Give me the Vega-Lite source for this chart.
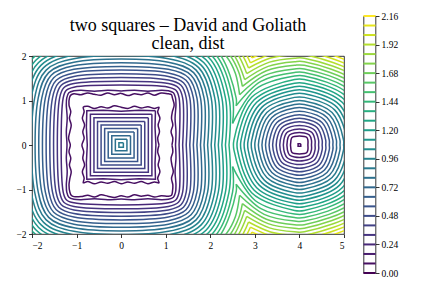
{
"$schema": "https://vega.github.io/schema/vega-lite/v6.json",
"padding": {"left": 15, "top": 10, "right": 5, "bottom": 5},
"spacing": 16.5,
"config": {
  "font": "Liberation Serif",
  "view": {"stroke": "black", "strokeWidth": 0.8},
  "axis": {"grid": false, "domain": false, "tickColor": "black", "tickSize": 3.5, "tickWidth": 0.8, "labelColor": "black", "labelFontSize": 9.5, "labelFont": "Liberation Serif", "labelPadding": 2.5}
},
"datasets": {
"g": [
{"k":1,"c":0.08,"x":1.14,"y":0},{"k":1,"c":0.08,"x":1.16,"y":0.15},{"k":1,"c":0.08,"x":1.12,"y":0.3},{"k":1,"c":0.08,"x":1.16,"y":0.45},{"k":1,"c":0.08,"x":1.13,"y":0.6},{"k":1,"c":0.08,"x":1.15,"y":0.75},{"k":1,"c":0.08,"x":1.19,"y":0.9},{"k":1,"c":0.08,"x":1.15,"y":1.06},{"k":1,"c":0.08,"x":1.13,"y":1.13},{"k":1,"c":0.08,"x":1.06,"y":1.15},{"k":1,"c":0.08,"x":0.9,"y":1.17},{"k":1,"c":0.08,"x":0.75,"y":1.12},{"k":1,"c":0.08,"x":0.6,"y":1.17},{"k":1,"c":0.08,"x":0.45,"y":1.13},{"k":1,"c":0.08,"x":0.3,"y":1.15},{"k":1,"c":0.08,"x":0.15,"y":1.11},{"k":1,"c":0.08,"x":0,"y":1.16},{"k":1,"c":0.08,"x":-0.15,"y":1.13},{"k":1,"c":0.08,"x":-0.3,"y":1.17},{"k":1,"c":0.08,"x":-0.45,"y":1.12},{"k":1,"c":0.08,"x":-0.6,"y":1.14},{"k":1,"c":0.08,"x":-0.75,"y":1.17},{"k":1,"c":0.08,"x":-0.9,"y":1.13},{"k":1,"c":0.08,"x":-1.06,"y":1.15},{"k":1,"c":0.08,"x":-1.13,"y":1.12},{"k":1,"c":0.08,"x":-1.16,"y":1.06},{"k":1,"c":0.08,"x":-1.17,"y":0.9},{"k":1,"c":0.08,"x":-1.13,"y":0.75},{"k":1,"c":0.08,"x":-1.16,"y":0.6},{"k":1,"c":0.08,"x":-1.12,"y":0.45},{"k":1,"c":0.08,"x":-1.15,"y":0.3},{"k":1,"c":0.08,"x":-1.18,"y":0.15},{"k":1,"c":0.08,"x":-1.14,"y":0},{"k":1,"c":0.08,"x":-1.17,"y":-0.15},{"k":1,"c":0.08,"x":-1.13,"y":-0.3},{"k":1,"c":0.08,"x":-1.16,"y":-0.45},{"k":1,"c":0.08,"x":-1.12,"y":-0.6},{"k":1,"c":0.08,"x":-1.15,"y":-0.75},{"k":1,"c":0.08,"x":-1.17,"y":-0.9},{"k":1,"c":0.08,"x":-1.15,"y":-1.06},{"k":1,"c":0.08,"x":-1.12,"y":-1.13},{"k":1,"c":0.08,"x":-1.06,"y":-1.16},{"k":1,"c":0.08,"x":-0.9,"y":-1.16},{"k":1,"c":0.08,"x":-0.75,"y":-1.13},{"k":1,"c":0.08,"x":-0.6,"y":-1.17},{"k":1,"c":0.08,"x":-0.45,"y":-1.12},{"k":1,"c":0.08,"x":-0.3,"y":-1.15},{"k":1,"c":0.08,"x":-0.15,"y":-1.18},{"k":1,"c":0.08,"x":0,"y":-1.14},{"k":1,"c":0.08,"x":0.15,"y":-1.17},{"k":1,"c":0.08,"x":0.3,"y":-1.12},{"k":1,"c":0.08,"x":0.45,"y":-1.15},{"k":1,"c":0.08,"x":0.6,"y":-1.13},{"k":1,"c":0.08,"x":0.75,"y":-1.17},{"k":1,"c":0.08,"x":0.9,"y":-1.14},{"k":1,"c":0.08,"x":1.06,"y":-1.15},{"k":1,"c":0.08,"x":1.13,"y":-1.13},{"k":1,"c":0.08,"x":1.15,"y":-1.06},{"k":1,"c":0.08,"x":1.16,"y":-0.9},{"k":1,"c":0.08,"x":1.13,"y":-0.75},{"k":1,"c":0.08,"x":1.17,"y":-0.6},{"k":1,"c":0.08,"x":1.14,"y":-0.45},{"k":1,"c":0.08,"x":1.12,"y":-0.3},{"k":1,"c":0.08,"x":1.16,"y":-0.15},{"k":1,"c":0.08,"x":1.14,"y":0},
{"k":2,"c":0.16,"x":1.22,"y":0},{"k":2,"c":0.16,"x":1.23,"y":0.3},{"k":2,"c":0.16,"x":1.21,"y":0.6},{"k":2,"c":0.16,"x":1.23,"y":0.9},{"k":2,"c":0.16,"x":1.22,"y":1.06},{"k":2,"c":0.16,"x":1.173,"y":1.173},{"k":2,"c":0.16,"x":1.06,"y":1.22},{"k":2,"c":0.16,"x":0.9,"y":1.23},{"k":2,"c":0.16,"x":0.6,"y":1.21},{"k":2,"c":0.16,"x":0.3,"y":1.23},{"k":2,"c":0.16,"x":0,"y":1.215},{"k":2,"c":0.16,"x":-0.3,"y":1.23},{"k":2,"c":0.16,"x":-0.6,"y":1.21},{"k":2,"c":0.16,"x":-0.9,"y":1.23},{"k":2,"c":0.16,"x":-1.06,"y":1.22},{"k":2,"c":0.16,"x":-1.173,"y":1.173},{"k":2,"c":0.16,"x":-1.22,"y":1.06},{"k":2,"c":0.16,"x":-1.23,"y":0.9},{"k":2,"c":0.16,"x":-1.21,"y":0.6},{"k":2,"c":0.16,"x":-1.23,"y":0.3},{"k":2,"c":0.16,"x":-1.215,"y":0},{"k":2,"c":0.16,"x":-1.23,"y":-0.3},{"k":2,"c":0.16,"x":-1.21,"y":-0.6},{"k":2,"c":0.16,"x":-1.23,"y":-0.9},{"k":2,"c":0.16,"x":-1.22,"y":-1.06},{"k":2,"c":0.16,"x":-1.173,"y":-1.173},{"k":2,"c":0.16,"x":-1.06,"y":-1.22},{"k":2,"c":0.16,"x":-0.9,"y":-1.23},{"k":2,"c":0.16,"x":-0.6,"y":-1.21},{"k":2,"c":0.16,"x":-0.3,"y":-1.23},{"k":2,"c":0.16,"x":0,"y":-1.215},{"k":2,"c":0.16,"x":0.3,"y":-1.23},{"k":2,"c":0.16,"x":0.6,"y":-1.21},{"k":2,"c":0.16,"x":0.9,"y":-1.23},{"k":2,"c":0.16,"x":1.06,"y":-1.22},{"k":2,"c":0.16,"x":1.173,"y":-1.173},{"k":2,"c":0.16,"x":1.22,"y":-1.06},{"k":2,"c":0.16,"x":1.23,"y":-0.9},{"k":2,"c":0.16,"x":1.21,"y":-0.6},{"k":2,"c":0.16,"x":1.23,"y":-0.3},{"k":2,"c":0.16,"x":1.22,"y":0},
{"k":401,"c":0.08,"x":0.85,"y":0},{"k":401,"c":0.08,"x":0.82,"y":0.15},{"k":401,"c":0.08,"x":0.86,"y":0.3},{"k":401,"c":0.08,"x":0.83,"y":0.45},{"k":401,"c":0.08,"x":0.87,"y":0.6},{"k":401,"c":0.08,"x":0.82,"y":0.75},{"k":401,"c":0.08,"x":0.85,"y":0.85},{"k":401,"c":0.08,"x":0.75,"y":0.82},{"k":401,"c":0.08,"x":0.6,"y":0.86},{"k":401,"c":0.08,"x":0.45,"y":0.83},{"k":401,"c":0.08,"x":0.3,"y":0.87},{"k":401,"c":0.08,"x":0.15,"y":0.82},{"k":401,"c":0.08,"x":0,"y":0.85},{"k":401,"c":0.08,"x":-0.15,"y":0.88},{"k":401,"c":0.08,"x":-0.3,"y":0.83},{"k":401,"c":0.08,"x":-0.45,"y":0.86},{"k":401,"c":0.08,"x":-0.6,"y":0.82},{"k":401,"c":0.08,"x":-0.75,"y":0.87},{"k":401,"c":0.08,"x":-0.85,"y":0.85},{"k":401,"c":0.08,"x":-0.83,"y":0.75},{"k":401,"c":0.08,"x":-0.87,"y":0.6},{"k":401,"c":0.08,"x":-0.82,"y":0.45},{"k":401,"c":0.08,"x":-0.86,"y":0.3},{"k":401,"c":0.08,"x":-0.83,"y":0.15},{"k":401,"c":0.08,"x":-0.88,"y":0},{"k":401,"c":0.08,"x":-0.84,"y":-0.15},{"k":401,"c":0.08,"x":-0.86,"y":-0.3},{"k":401,"c":0.08,"x":-0.82,"y":-0.45},{"k":401,"c":0.08,"x":-0.87,"y":-0.6},{"k":401,"c":0.08,"x":-0.83,"y":-0.75},{"k":401,"c":0.08,"x":-0.85,"y":-0.85},{"k":401,"c":0.08,"x":-0.75,"y":-0.82},{"k":401,"c":0.08,"x":-0.6,"y":-0.87},{"k":401,"c":0.08,"x":-0.45,"y":-0.83},{"k":401,"c":0.08,"x":-0.3,"y":-0.86},{"k":401,"c":0.08,"x":-0.15,"y":-0.82},{"k":401,"c":0.08,"x":0,"y":-0.87},{"k":401,"c":0.08,"x":0.15,"y":-0.83},{"k":401,"c":0.08,"x":0.3,"y":-0.86},{"k":401,"c":0.08,"x":0.45,"y":-0.82},{"k":401,"c":0.08,"x":0.6,"y":-0.87},{"k":401,"c":0.08,"x":0.75,"y":-0.83},{"k":401,"c":0.08,"x":0.85,"y":-0.85},{"k":401,"c":0.08,"x":0.82,"y":-0.75},{"k":401,"c":0.08,"x":0.87,"y":-0.6},{"k":401,"c":0.08,"x":0.83,"y":-0.45},{"k":401,"c":0.08,"x":0.86,"y":-0.3},{"k":401,"c":0.08,"x":0.82,"y":-0.15},{"k":401,"c":0.08,"x":0.85,"y":0},
{"k":3,"c":0.24,"x":1.3,"y":0},{"k":3,"c":0.24,"x":1.3,"y":1.06},{"k":3,"c":0.24,"x":1.23,"y":1.23},{"k":3,"c":0.24,"x":1.06,"y":1.3},{"k":3,"c":0.24,"x":-1.06,"y":1.3},{"k":3,"c":0.24,"x":-1.23,"y":1.23},{"k":3,"c":0.24,"x":-1.3,"y":1.06},{"k":3,"c":0.24,"x":-1.3,"y":-1.06},{"k":3,"c":0.24,"x":-1.23,"y":-1.23},{"k":3,"c":0.24,"x":-1.06,"y":-1.3},{"k":3,"c":0.24,"x":1.06,"y":-1.3},{"k":3,"c":0.24,"x":1.23,"y":-1.23},{"k":3,"c":0.24,"x":1.3,"y":-1.06},{"k":3,"c":0.24,"x":1.3,"y":0},
{"k":4,"c":0.32,"x":1.38,"y":0},{"k":4,"c":0.32,"x":1.38,"y":1.06},{"k":4,"c":0.32,"x":1.286,"y":1.286},{"k":4,"c":0.32,"x":1.06,"y":1.38},{"k":4,"c":0.32,"x":-1.06,"y":1.38},{"k":4,"c":0.32,"x":-1.286,"y":1.286},{"k":4,"c":0.32,"x":-1.38,"y":1.06},{"k":4,"c":0.32,"x":-1.38,"y":-1.06},{"k":4,"c":0.32,"x":-1.286,"y":-1.286},{"k":4,"c":0.32,"x":-1.06,"y":-1.38},{"k":4,"c":0.32,"x":1.06,"y":-1.38},{"k":4,"c":0.32,"x":1.286,"y":-1.286},{"k":4,"c":0.32,"x":1.38,"y":-1.06},{"k":4,"c":0.32,"x":1.38,"y":0},
{"k":5,"c":0.4,"x":1.46,"y":0},{"k":5,"c":0.4,"x":1.46,"y":1.06},{"k":5,"c":0.4,"x":1.343,"y":1.343},{"k":5,"c":0.4,"x":1.06,"y":1.46},{"k":5,"c":0.4,"x":-1.06,"y":1.46},{"k":5,"c":0.4,"x":-1.343,"y":1.343},{"k":5,"c":0.4,"x":-1.46,"y":1.06},{"k":5,"c":0.4,"x":-1.46,"y":-1.06},{"k":5,"c":0.4,"x":-1.343,"y":-1.343},{"k":5,"c":0.4,"x":-1.06,"y":-1.46},{"k":5,"c":0.4,"x":1.06,"y":-1.46},{"k":5,"c":0.4,"x":1.343,"y":-1.343},{"k":5,"c":0.4,"x":1.46,"y":-1.06},{"k":5,"c":0.4,"x":1.46,"y":0},
{"k":6,"c":0.48,"x":1.54,"y":0},{"k":6,"c":0.48,"x":1.54,"y":1.06},{"k":6,"c":0.48,"x":1.399,"y":1.399},{"k":6,"c":0.48,"x":1.06,"y":1.54},{"k":6,"c":0.48,"x":-1.06,"y":1.54},{"k":6,"c":0.48,"x":-1.399,"y":1.399},{"k":6,"c":0.48,"x":-1.54,"y":1.06},{"k":6,"c":0.48,"x":-1.54,"y":-1.06},{"k":6,"c":0.48,"x":-1.399,"y":-1.399},{"k":6,"c":0.48,"x":-1.06,"y":-1.54},{"k":6,"c":0.48,"x":1.06,"y":-1.54},{"k":6,"c":0.48,"x":1.399,"y":-1.399},{"k":6,"c":0.48,"x":1.54,"y":-1.06},{"k":6,"c":0.48,"x":1.54,"y":0},
{"k":7,"c":0.56,"x":1.62,"y":0},{"k":7,"c":0.56,"x":1.62,"y":1.06},{"k":7,"c":0.56,"x":1.456,"y":1.456},{"k":7,"c":0.56,"x":1.06,"y":1.62},{"k":7,"c":0.56,"x":-1.06,"y":1.62},{"k":7,"c":0.56,"x":-1.456,"y":1.456},{"k":7,"c":0.56,"x":-1.62,"y":1.06},{"k":7,"c":0.56,"x":-1.62,"y":-1.06},{"k":7,"c":0.56,"x":-1.456,"y":-1.456},{"k":7,"c":0.56,"x":-1.06,"y":-1.62},{"k":7,"c":0.56,"x":1.06,"y":-1.62},{"k":7,"c":0.56,"x":1.456,"y":-1.456},{"k":7,"c":0.56,"x":1.62,"y":-1.06},{"k":7,"c":0.56,"x":1.62,"y":0},
{"k":8,"c":0.64,"x":1.7,"y":0},{"k":8,"c":0.64,"x":1.7,"y":1.06},{"k":8,"c":0.64,"x":1.513,"y":1.513},{"k":8,"c":0.64,"x":1.06,"y":1.7},{"k":8,"c":0.64,"x":-1.06,"y":1.7},{"k":8,"c":0.64,"x":-1.513,"y":1.513},{"k":8,"c":0.64,"x":-1.7,"y":1.06},{"k":8,"c":0.64,"x":-1.7,"y":-1.06},{"k":8,"c":0.64,"x":-1.513,"y":-1.513},{"k":8,"c":0.64,"x":-1.06,"y":-1.7},{"k":8,"c":0.64,"x":1.06,"y":-1.7},{"k":8,"c":0.64,"x":1.513,"y":-1.513},{"k":8,"c":0.64,"x":1.7,"y":-1.06},{"k":8,"c":0.64,"x":1.7,"y":0},
{"k":9,"c":0.72,"x":1.78,"y":0},{"k":9,"c":0.72,"x":1.78,"y":1.06},{"k":9,"c":0.72,"x":1.569,"y":1.569},{"k":9,"c":0.72,"x":1.06,"y":1.78},{"k":9,"c":0.72,"x":-1.06,"y":1.78},{"k":9,"c":0.72,"x":-1.569,"y":1.569},{"k":9,"c":0.72,"x":-1.78,"y":1.06},{"k":9,"c":0.72,"x":-1.78,"y":-1.06},{"k":9,"c":0.72,"x":-1.569,"y":-1.569},{"k":9,"c":0.72,"x":-1.06,"y":-1.78},{"k":9,"c":0.72,"x":1.06,"y":-1.78},{"k":9,"c":0.72,"x":1.569,"y":-1.569},{"k":9,"c":0.72,"x":1.78,"y":-1.06},{"k":9,"c":0.72,"x":1.78,"y":0},
{"k":10,"c":0.8,"x":1.86,"y":0},{"k":10,"c":0.8,"x":1.86,"y":1.06},{"k":10,"c":0.8,"x":1.626,"y":1.626},{"k":10,"c":0.8,"x":1.06,"y":1.86},{"k":10,"c":0.8,"x":-1.06,"y":1.86},{"k":10,"c":0.8,"x":-1.626,"y":1.626},{"k":10,"c":0.8,"x":-1.86,"y":1.06},{"k":10,"c":0.8,"x":-1.86,"y":-1.06},{"k":10,"c":0.8,"x":-1.626,"y":-1.626},{"k":10,"c":0.8,"x":-1.06,"y":-1.86},{"k":10,"c":0.8,"x":1.06,"y":-1.86},{"k":10,"c":0.8,"x":1.626,"y":-1.626},{"k":10,"c":0.8,"x":1.86,"y":-1.06},{"k":10,"c":0.8,"x":1.86,"y":0},
{"k":11,"c":0.88,"x":1.94,"y":0},{"k":11,"c":0.88,"x":1.94,"y":1.06},{"k":11,"c":0.88,"x":1.682,"y":1.682},{"k":11,"c":0.88,"x":1.06,"y":1.94},{"k":11,"c":0.88,"x":-1.06,"y":1.94},{"k":11,"c":0.88,"x":-1.682,"y":1.682},{"k":11,"c":0.88,"x":-1.94,"y":1.06},{"k":11,"c":0.88,"x":-1.94,"y":-1.06},{"k":11,"c":0.88,"x":-1.682,"y":-1.682},{"k":11,"c":0.88,"x":-1.06,"y":-1.94},{"k":11,"c":0.88,"x":1.06,"y":-1.94},{"k":11,"c":0.88,"x":1.682,"y":-1.682},{"k":11,"c":0.88,"x":1.94,"y":-1.06},{"k":11,"c":0.88,"x":1.94,"y":0},
{"k":12,"c":0.96,"x":2.02,"y":0},{"k":12,"c":0.96,"x":2.02,"y":1.06},{"k":12,"c":0.96,"x":1.739,"y":1.739},{"k":12,"c":0.96,"x":1.06,"y":2.02},{"k":12,"c":0.96,"x":-1.06,"y":2.02},{"k":12,"c":0.96,"x":-1.739,"y":1.739},{"k":12,"c":0.96,"x":-2.02,"y":1.06},{"k":12,"c":0.96,"x":-2.02,"y":-1.06},{"k":12,"c":0.96,"x":-1.739,"y":-1.739},{"k":12,"c":0.96,"x":-1.06,"y":-2.02},{"k":12,"c":0.96,"x":1.06,"y":-2.02},{"k":12,"c":0.96,"x":1.739,"y":-1.739},{"k":12,"c":0.96,"x":2.02,"y":-1.06},{"k":12,"c":0.96,"x":2.02,"y":0},
{"k":13,"c":1.04,"x":2.1,"y":0},{"k":13,"c":1.04,"x":2.1,"y":1.06},{"k":13,"c":1.04,"x":1.795,"y":1.795},{"k":13,"c":1.04,"x":1.06,"y":2.1},{"k":13,"c":1.04,"x":-1.06,"y":2.1},{"k":13,"c":1.04,"x":-1.795,"y":1.795},{"k":13,"c":1.04,"x":-2.1,"y":1.06},{"k":13,"c":1.04,"x":-2.1,"y":-1.06},{"k":13,"c":1.04,"x":-1.795,"y":-1.795},{"k":13,"c":1.04,"x":-1.06,"y":-2.1},{"k":13,"c":1.04,"x":1.06,"y":-2.1},{"k":13,"c":1.04,"x":1.795,"y":-1.795},{"k":13,"c":1.04,"x":2.1,"y":-1.06},{"k":13,"c":1.04,"x":2.1,"y":0},
{"k":14,"c":1.12,"x":2.18,"y":0},{"k":14,"c":1.12,"x":2.18,"y":1.06},{"k":14,"c":1.12,"x":1.852,"y":1.852},{"k":14,"c":1.12,"x":1.06,"y":2.18},{"k":14,"c":1.12,"x":-1.06,"y":2.18},{"k":14,"c":1.12,"x":-1.852,"y":1.852},{"k":14,"c":1.12,"x":-2.18,"y":1.06},{"k":14,"c":1.12,"x":-2.18,"y":-1.06},{"k":14,"c":1.12,"x":-1.852,"y":-1.852},{"k":14,"c":1.12,"x":-1.06,"y":-2.18},{"k":14,"c":1.12,"x":1.06,"y":-2.18},{"k":14,"c":1.12,"x":1.852,"y":-1.852},{"k":14,"c":1.12,"x":2.18,"y":-1.06},{"k":14,"c":1.12,"x":2.18,"y":0},
{"k":15,"c":1.2,"x":2.26,"y":0},{"k":15,"c":1.2,"x":2.26,"y":1.06},{"k":15,"c":1.2,"x":1.909,"y":1.909},{"k":15,"c":1.2,"x":1.06,"y":2.26},{"k":15,"c":1.2,"x":-1.06,"y":2.26},{"k":15,"c":1.2,"x":-1.909,"y":1.909},{"k":15,"c":1.2,"x":-2.26,"y":1.06},{"k":15,"c":1.2,"x":-2.26,"y":-1.06},{"k":15,"c":1.2,"x":-1.909,"y":-1.909},{"k":15,"c":1.2,"x":-1.06,"y":-2.26},{"k":15,"c":1.2,"x":1.06,"y":-2.26},{"k":15,"c":1.2,"x":1.909,"y":-1.909},{"k":15,"c":1.2,"x":2.26,"y":-1.06},{"k":15,"c":1.2,"x":2.26,"y":0},
{"k":16,"c":1.28,"x":2.34,"y":0},{"k":16,"c":1.28,"x":2.34,"y":1.06},{"k":16,"c":1.28,"x":1.965,"y":1.965},{"k":16,"c":1.28,"x":1.06,"y":2.34},{"k":16,"c":1.28,"x":-1.06,"y":2.34},{"k":16,"c":1.28,"x":-1.965,"y":1.965},{"k":16,"c":1.28,"x":-2.34,"y":1.06},{"k":16,"c":1.28,"x":-2.34,"y":-1.06},{"k":16,"c":1.28,"x":-1.965,"y":-1.965},{"k":16,"c":1.28,"x":-1.06,"y":-2.34},{"k":16,"c":1.28,"x":1.06,"y":-2.34},{"k":16,"c":1.28,"x":1.965,"y":-1.965},{"k":16,"c":1.28,"x":2.34,"y":-1.06},{"k":16,"c":1.28,"x":2.34,"y":0},
{"k":17,"c":1.36,"x":2.42,"y":0},{"k":17,"c":1.36,"x":2.42,"y":1.06},{"k":17,"c":1.36,"x":2.022,"y":2.022},{"k":17,"c":1.36,"x":1.06,"y":2.42},{"k":17,"c":1.36,"x":-1.06,"y":2.42},{"k":17,"c":1.36,"x":-2.022,"y":2.022},{"k":17,"c":1.36,"x":-2.42,"y":1.06},{"k":17,"c":1.36,"x":-2.42,"y":-1.06},{"k":17,"c":1.36,"x":-2.022,"y":-2.022},{"k":17,"c":1.36,"x":-1.06,"y":-2.42},{"k":17,"c":1.36,"x":1.06,"y":-2.42},{"k":17,"c":1.36,"x":2.022,"y":-2.022},{"k":17,"c":1.36,"x":2.42,"y":-1.06},{"k":17,"c":1.36,"x":2.42,"y":0},
{"k":118,"c":1.44,"x":2.5,"y":0.486},{"k":118,"c":1.44,"x":2.5,"y":1.06},{"k":118,"c":1.44,"x":2.078,"y":2.078},{"k":118,"c":1.44,"x":1.06,"y":2.5},
{"k":218,"c":1.44,"x":2.5,"y":-0.486},{"k":218,"c":1.44,"x":2.5,"y":-1.06},{"k":218,"c":1.44,"x":2.078,"y":-2.078},{"k":218,"c":1.44,"x":1.06,"y":-2.5},
{"k":119,"c":1.52,"x":2.58,"y":0.881},{"k":119,"c":1.52,"x":2.58,"y":1.06},{"k":119,"c":1.52,"x":2.135,"y":2.135},{"k":119,"c":1.52,"x":1.06,"y":2.58},
{"k":219,"c":1.52,"x":2.58,"y":-0.881},{"k":219,"c":1.52,"x":2.58,"y":-1.06},{"k":219,"c":1.52,"x":2.135,"y":-2.135},{"k":219,"c":1.52,"x":1.06,"y":-2.58},
{"k":120,"c":1.6,"x":2.658,"y":1.131},{"k":120,"c":1.6,"x":2.564,"y":1.607},{"k":120,"c":1.6,"x":2.371,"y":1.978},{"k":120,"c":1.6,"x":1.86,"y":2.446},{"k":120,"c":1.6,"x":1.06,"y":2.66},
{"k":220,"c":1.6,"x":2.658,"y":-1.131},{"k":220,"c":1.6,"x":2.564,"y":-1.607},{"k":220,"c":1.6,"x":2.371,"y":-1.978},{"k":220,"c":1.6,"x":1.86,"y":-2.446},{"k":220,"c":1.6,"x":1.06,"y":-2.66},
{"k":121,"c":1.68,"x":2.72,"y":1.316},{"k":121,"c":1.68,"x":2.639,"y":1.635},{"k":121,"c":1.68,"x":2.436,"y":2.024},{"k":121,"c":1.68,"x":1.9,"y":2.515},{"k":121,"c":1.68,"x":1.06,"y":2.74},
{"k":221,"c":1.68,"x":2.72,"y":-1.316},{"k":221,"c":1.68,"x":2.639,"y":-1.635},{"k":221,"c":1.68,"x":2.436,"y":-2.024},{"k":221,"c":1.68,"x":1.9,"y":-2.515},{"k":221,"c":1.68,"x":1.06,"y":-2.74},
{"k":122,"c":1.76,"x":2.772,"y":1.469},{"k":122,"c":1.76,"x":2.502,"y":2.07},{"k":122,"c":1.76,"x":1.94,"y":2.584},{"k":122,"c":1.76,"x":1.06,"y":2.82},
{"k":222,"c":1.76,"x":2.772,"y":-1.469},{"k":222,"c":1.76,"x":2.502,"y":-2.07},{"k":222,"c":1.76,"x":1.94,"y":-2.584},{"k":222,"c":1.76,"x":1.06,"y":-2.82},
{"k":123,"c":1.84,"x":2.817,"y":1.605},{"k":123,"c":1.84,"x":2.567,"y":2.115},{"k":123,"c":1.84,"x":1.98,"y":2.653},{"k":123,"c":1.84,"x":1.06,"y":2.9},
{"k":223,"c":1.84,"x":2.817,"y":-1.605},{"k":223,"c":1.84,"x":2.567,"y":-2.115},{"k":223,"c":1.84,"x":1.98,"y":-2.653},{"k":223,"c":1.84,"x":1.06,"y":-2.9},
{"k":124,"c":1.92,"x":2.859,"y":1.73},{"k":124,"c":1.92,"x":2.633,"y":2.161},{"k":124,"c":1.92,"x":2.02,"y":2.723},{"k":124,"c":1.92,"x":1.06,"y":2.98},
{"k":224,"c":1.92,"x":2.859,"y":-1.73},{"k":224,"c":1.92,"x":2.633,"y":-2.161},{"k":224,"c":1.92,"x":2.02,"y":-2.723},{"k":224,"c":1.92,"x":1.06,"y":-2.98},
{"k":125,"c":2,"x":2.899,"y":1.847},{"k":125,"c":2,"x":2.698,"y":2.207},{"k":125,"c":2,"x":2.06,"y":2.792},{"k":125,"c":2,"x":1.06,"y":3.06},
{"k":225,"c":2,"x":2.899,"y":-1.847},{"k":225,"c":2,"x":2.698,"y":-2.207},{"k":225,"c":2,"x":2.06,"y":-2.792},{"k":225,"c":2,"x":1.06,"y":-3.06},
{"k":126,"c":2.08,"x":2.936,"y":1.958},{"k":126,"c":2.08,"x":2.764,"y":2.253},{"k":126,"c":2.08,"x":2.1,"y":2.861},{"k":126,"c":2.08,"x":1.06,"y":3.14},
{"k":226,"c":2.08,"x":2.936,"y":-1.958},{"k":226,"c":2.08,"x":2.764,"y":-2.253},{"k":226,"c":2.08,"x":2.1,"y":-2.861},{"k":226,"c":2.08,"x":1.06,"y":-3.14},
{"k":301,"c":0.08,"x":4.19,"y":0},{"k":301,"c":0.08,"x":4.19,"y":0.11},{"k":301,"c":0.08,"x":4.167,"y":0.167},{"k":301,"c":0.08,"x":4.11,"y":0.19},{"k":301,"c":0.08,"x":3.89,"y":0.19},{"k":301,"c":0.08,"x":3.833,"y":0.167},{"k":301,"c":0.08,"x":3.81,"y":0.11},{"k":301,"c":0.08,"x":3.81,"y":-0.11},{"k":301,"c":0.08,"x":3.833,"y":-0.167},{"k":301,"c":0.08,"x":3.89,"y":-0.19},{"k":301,"c":0.08,"x":4.11,"y":-0.19},{"k":301,"c":0.08,"x":4.167,"y":-0.167},{"k":301,"c":0.08,"x":4.19,"y":-0.11},{"k":301,"c":0.08,"x":4.19,"y":0},
{"k":302,"c":0.16,"x":4.27,"y":0},{"k":302,"c":0.16,"x":4.27,"y":0.11},{"k":302,"c":0.16,"x":4.223,"y":0.223},{"k":302,"c":0.16,"x":4.11,"y":0.27},{"k":302,"c":0.16,"x":3.89,"y":0.27},{"k":302,"c":0.16,"x":3.777,"y":0.223},{"k":302,"c":0.16,"x":3.73,"y":0.11},{"k":302,"c":0.16,"x":3.73,"y":-0.11},{"k":302,"c":0.16,"x":3.777,"y":-0.223},{"k":302,"c":0.16,"x":3.89,"y":-0.27},{"k":302,"c":0.16,"x":4.11,"y":-0.27},{"k":302,"c":0.16,"x":4.223,"y":-0.223},{"k":302,"c":0.16,"x":4.27,"y":-0.11},{"k":302,"c":0.16,"x":4.27,"y":0},
{"k":303,"c":0.24,"x":4.35,"y":0},{"k":303,"c":0.24,"x":4.35,"y":0.11},{"k":303,"c":0.24,"x":4.28,"y":0.28},{"k":303,"c":0.24,"x":4.11,"y":0.35},{"k":303,"c":0.24,"x":3.89,"y":0.35},{"k":303,"c":0.24,"x":3.72,"y":0.28},{"k":303,"c":0.24,"x":3.65,"y":0.11},{"k":303,"c":0.24,"x":3.65,"y":-0.11},{"k":303,"c":0.24,"x":3.72,"y":-0.28},{"k":303,"c":0.24,"x":3.89,"y":-0.35},{"k":303,"c":0.24,"x":4.11,"y":-0.35},{"k":303,"c":0.24,"x":4.28,"y":-0.28},{"k":303,"c":0.24,"x":4.35,"y":-0.11},{"k":303,"c":0.24,"x":4.35,"y":0},
{"k":304,"c":0.32,"x":4.43,"y":0},{"k":304,"c":0.32,"x":4.43,"y":0.11},{"k":304,"c":0.32,"x":4.336,"y":0.336},{"k":304,"c":0.32,"x":4.11,"y":0.43},{"k":304,"c":0.32,"x":3.89,"y":0.43},{"k":304,"c":0.32,"x":3.664,"y":0.336},{"k":304,"c":0.32,"x":3.57,"y":0.11},{"k":304,"c":0.32,"x":3.57,"y":-0.11},{"k":304,"c":0.32,"x":3.664,"y":-0.336},{"k":304,"c":0.32,"x":3.89,"y":-0.43},{"k":304,"c":0.32,"x":4.11,"y":-0.43},{"k":304,"c":0.32,"x":4.336,"y":-0.336},{"k":304,"c":0.32,"x":4.43,"y":-0.11},{"k":304,"c":0.32,"x":4.43,"y":0},
{"k":305,"c":0.4,"x":4.51,"y":0},{"k":305,"c":0.4,"x":4.51,"y":0.11},{"k":305,"c":0.4,"x":4.393,"y":0.393},{"k":305,"c":0.4,"x":4.11,"y":0.51},{"k":305,"c":0.4,"x":3.89,"y":0.51},{"k":305,"c":0.4,"x":3.607,"y":0.393},{"k":305,"c":0.4,"x":3.49,"y":0.11},{"k":305,"c":0.4,"x":3.49,"y":-0.11},{"k":305,"c":0.4,"x":3.607,"y":-0.393},{"k":305,"c":0.4,"x":3.89,"y":-0.51},{"k":305,"c":0.4,"x":4.11,"y":-0.51},{"k":305,"c":0.4,"x":4.393,"y":-0.393},{"k":305,"c":0.4,"x":4.51,"y":-0.11},{"k":305,"c":0.4,"x":4.51,"y":0},
{"k":306,"c":0.48,"x":4.59,"y":0},{"k":306,"c":0.48,"x":4.59,"y":0.11},{"k":306,"c":0.48,"x":4.449,"y":0.449},{"k":306,"c":0.48,"x":4.11,"y":0.59},{"k":306,"c":0.48,"x":3.89,"y":0.59},{"k":306,"c":0.48,"x":3.551,"y":0.449},{"k":306,"c":0.48,"x":3.41,"y":0.11},{"k":306,"c":0.48,"x":3.41,"y":-0.11},{"k":306,"c":0.48,"x":3.551,"y":-0.449},{"k":306,"c":0.48,"x":3.89,"y":-0.59},{"k":306,"c":0.48,"x":4.11,"y":-0.59},{"k":306,"c":0.48,"x":4.449,"y":-0.449},{"k":306,"c":0.48,"x":4.59,"y":-0.11},{"k":306,"c":0.48,"x":4.59,"y":0},
{"k":307,"c":0.56,"x":4.67,"y":0},{"k":307,"c":0.56,"x":4.67,"y":0.11},{"k":307,"c":0.56,"x":4.506,"y":0.506},{"k":307,"c":0.56,"x":4.11,"y":0.67},{"k":307,"c":0.56,"x":3.89,"y":0.67},{"k":307,"c":0.56,"x":3.494,"y":0.506},{"k":307,"c":0.56,"x":3.33,"y":0.11},{"k":307,"c":0.56,"x":3.33,"y":-0.11},{"k":307,"c":0.56,"x":3.494,"y":-0.506},{"k":307,"c":0.56,"x":3.89,"y":-0.67},{"k":307,"c":0.56,"x":4.11,"y":-0.67},{"k":307,"c":0.56,"x":4.506,"y":-0.506},{"k":307,"c":0.56,"x":4.67,"y":-0.11},{"k":307,"c":0.56,"x":4.67,"y":0},
{"k":308,"c":0.64,"x":4.75,"y":0},{"k":308,"c":0.64,"x":4.75,"y":0.11},{"k":308,"c":0.64,"x":4.563,"y":0.563},{"k":308,"c":0.64,"x":4.11,"y":0.75},{"k":308,"c":0.64,"x":3.89,"y":0.75},{"k":308,"c":0.64,"x":3.437,"y":0.563},{"k":308,"c":0.64,"x":3.25,"y":0.11},{"k":308,"c":0.64,"x":3.25,"y":-0.11},{"k":308,"c":0.64,"x":3.437,"y":-0.563},{"k":308,"c":0.64,"x":3.89,"y":-0.75},{"k":308,"c":0.64,"x":4.11,"y":-0.75},{"k":308,"c":0.64,"x":4.563,"y":-0.563},{"k":308,"c":0.64,"x":4.75,"y":-0.11},{"k":308,"c":0.64,"x":4.75,"y":0},
{"k":309,"c":0.72,"x":4.83,"y":0},{"k":309,"c":0.72,"x":4.83,"y":0.11},{"k":309,"c":0.72,"x":4.619,"y":0.619},{"k":309,"c":0.72,"x":4.11,"y":0.83},{"k":309,"c":0.72,"x":3.89,"y":0.83},{"k":309,"c":0.72,"x":3.381,"y":0.619},{"k":309,"c":0.72,"x":3.17,"y":0.11},{"k":309,"c":0.72,"x":3.17,"y":-0.11},{"k":309,"c":0.72,"x":3.381,"y":-0.619},{"k":309,"c":0.72,"x":3.89,"y":-0.83},{"k":309,"c":0.72,"x":4.11,"y":-0.83},{"k":309,"c":0.72,"x":4.619,"y":-0.619},{"k":309,"c":0.72,"x":4.83,"y":-0.11},{"k":309,"c":0.72,"x":4.83,"y":0},
{"k":310,"c":0.8,"x":4.91,"y":0},{"k":310,"c":0.8,"x":4.91,"y":0.11},{"k":310,"c":0.8,"x":4.676,"y":0.676},{"k":310,"c":0.8,"x":4.11,"y":0.91},{"k":310,"c":0.8,"x":3.89,"y":0.91},{"k":310,"c":0.8,"x":3.324,"y":0.676},{"k":310,"c":0.8,"x":3.09,"y":0.11},{"k":310,"c":0.8,"x":3.09,"y":-0.11},{"k":310,"c":0.8,"x":3.324,"y":-0.676},{"k":310,"c":0.8,"x":3.89,"y":-0.91},{"k":310,"c":0.8,"x":4.11,"y":-0.91},{"k":310,"c":0.8,"x":4.676,"y":-0.676},{"k":310,"c":0.8,"x":4.91,"y":-0.11},{"k":310,"c":0.8,"x":4.91,"y":0},
{"k":311,"c":0.88,"x":4.99,"y":0},{"k":311,"c":0.88,"x":4.99,"y":0.11},{"k":311,"c":0.88,"x":4.732,"y":0.732},{"k":311,"c":0.88,"x":4.11,"y":0.99},{"k":311,"c":0.88,"x":3.89,"y":0.99},{"k":311,"c":0.88,"x":3.268,"y":0.732},{"k":311,"c":0.88,"x":3.01,"y":0.11},{"k":311,"c":0.88,"x":3.01,"y":-0.11},{"k":311,"c":0.88,"x":3.268,"y":-0.732},{"k":311,"c":0.88,"x":3.89,"y":-0.99},{"k":311,"c":0.88,"x":4.11,"y":-0.99},{"k":311,"c":0.88,"x":4.732,"y":-0.732},{"k":311,"c":0.88,"x":4.99,"y":-0.11},{"k":311,"c":0.88,"x":4.99,"y":0},
{"k":312,"c":0.96,"x":5.07,"y":0},{"k":312,"c":0.96,"x":5.07,"y":0.11},{"k":312,"c":0.96,"x":4.789,"y":0.789},{"k":312,"c":0.96,"x":4.11,"y":1.07},{"k":312,"c":0.96,"x":3.89,"y":1.07},{"k":312,"c":0.96,"x":3.211,"y":0.789},{"k":312,"c":0.96,"x":2.93,"y":0.11},{"k":312,"c":0.96,"x":2.93,"y":-0.11},{"k":312,"c":0.96,"x":3.211,"y":-0.789},{"k":312,"c":0.96,"x":3.89,"y":-1.07},{"k":312,"c":0.96,"x":4.11,"y":-1.07},{"k":312,"c":0.96,"x":4.789,"y":-0.789},{"k":312,"c":0.96,"x":5.07,"y":-0.11},{"k":312,"c":0.96,"x":5.07,"y":0},
{"k":313,"c":1.04,"x":5.15,"y":0},{"k":313,"c":1.04,"x":5.15,"y":0.11},{"k":313,"c":1.04,"x":4.845,"y":0.845},{"k":313,"c":1.04,"x":4.11,"y":1.15},{"k":313,"c":1.04,"x":3.89,"y":1.15},{"k":313,"c":1.04,"x":3.155,"y":0.845},{"k":313,"c":1.04,"x":2.85,"y":0.11},{"k":313,"c":1.04,"x":2.85,"y":-0.11},{"k":313,"c":1.04,"x":3.155,"y":-0.845},{"k":313,"c":1.04,"x":3.89,"y":-1.15},{"k":313,"c":1.04,"x":4.11,"y":-1.15},{"k":313,"c":1.04,"x":4.845,"y":-0.845},{"k":313,"c":1.04,"x":5.15,"y":-0.11},{"k":313,"c":1.04,"x":5.15,"y":0},
{"k":314,"c":1.12,"x":5.23,"y":0},{"k":314,"c":1.12,"x":5.23,"y":0.11},{"k":314,"c":1.12,"x":4.902,"y":0.902},{"k":314,"c":1.12,"x":4.11,"y":1.23},{"k":314,"c":1.12,"x":3.89,"y":1.23},{"k":314,"c":1.12,"x":3.098,"y":0.902},{"k":314,"c":1.12,"x":2.77,"y":0.11},{"k":314,"c":1.12,"x":2.77,"y":-0.11},{"k":314,"c":1.12,"x":3.098,"y":-0.902},{"k":314,"c":1.12,"x":3.89,"y":-1.23},{"k":314,"c":1.12,"x":4.11,"y":-1.23},{"k":314,"c":1.12,"x":4.902,"y":-0.902},{"k":314,"c":1.12,"x":5.23,"y":-0.11},{"k":314,"c":1.12,"x":5.23,"y":0},
{"k":315,"c":1.2,"x":5.31,"y":0},{"k":315,"c":1.2,"x":5.31,"y":0.11},{"k":315,"c":1.2,"x":4.959,"y":0.959},{"k":315,"c":1.2,"x":4.11,"y":1.31},{"k":315,"c":1.2,"x":3.89,"y":1.31},{"k":315,"c":1.2,"x":3.041,"y":0.959},{"k":315,"c":1.2,"x":2.69,"y":0.11},{"k":315,"c":1.2,"x":2.69,"y":-0.11},{"k":315,"c":1.2,"x":3.041,"y":-0.959},{"k":315,"c":1.2,"x":3.89,"y":-1.31},{"k":315,"c":1.2,"x":4.11,"y":-1.31},{"k":315,"c":1.2,"x":4.959,"y":-0.959},{"k":315,"c":1.2,"x":5.31,"y":-0.11},{"k":315,"c":1.2,"x":5.31,"y":0},
{"k":316,"c":1.28,"x":5.39,"y":0},{"k":316,"c":1.28,"x":5.39,"y":0.11},{"k":316,"c":1.28,"x":5.015,"y":1.015},{"k":316,"c":1.28,"x":4.11,"y":1.39},{"k":316,"c":1.28,"x":3.89,"y":1.39},{"k":316,"c":1.28,"x":2.985,"y":1.015},{"k":316,"c":1.28,"x":2.61,"y":0.11},{"k":316,"c":1.28,"x":2.61,"y":-0.11},{"k":316,"c":1.28,"x":2.985,"y":-1.015},{"k":316,"c":1.28,"x":3.89,"y":-1.39},{"k":316,"c":1.28,"x":4.11,"y":-1.39},{"k":316,"c":1.28,"x":5.015,"y":-1.015},{"k":316,"c":1.28,"x":5.39,"y":-0.11},{"k":316,"c":1.28,"x":5.39,"y":0},
{"k":317,"c":1.36,"x":5.47,"y":0},{"k":317,"c":1.36,"x":5.47,"y":0.11},{"k":317,"c":1.36,"x":5.072,"y":1.072},{"k":317,"c":1.36,"x":4.11,"y":1.47},{"k":317,"c":1.36,"x":3.89,"y":1.47},{"k":317,"c":1.36,"x":2.928,"y":1.072},{"k":317,"c":1.36,"x":2.53,"y":0.11},{"k":317,"c":1.36,"x":2.53,"y":-0.11},{"k":317,"c":1.36,"x":2.928,"y":-1.072},{"k":317,"c":1.36,"x":3.89,"y":-1.47},{"k":317,"c":1.36,"x":4.11,"y":-1.47},{"k":317,"c":1.36,"x":5.072,"y":-1.072},{"k":317,"c":1.36,"x":5.47,"y":-0.11},{"k":317,"c":1.36,"x":5.47,"y":0},
{"k":318,"c":1.44,"x":2.5,"y":0.486},{"k":318,"c":1.44,"x":3.013,"y":1.253},{"k":318,"c":1.44,"x":3.89,"y":1.55},{"k":318,"c":1.44,"x":4.11,"y":1.55},{"k":318,"c":1.44,"x":5.128,"y":1.128},{"k":318,"c":1.44,"x":5.55,"y":0.11},{"k":318,"c":1.44,"x":5.55,"y":-0.11},{"k":318,"c":1.44,"x":5.128,"y":-1.128},{"k":318,"c":1.44,"x":4.11,"y":-1.55},{"k":318,"c":1.44,"x":3.89,"y":-1.55},{"k":318,"c":1.44,"x":3.013,"y":-1.253},{"k":318,"c":1.44,"x":2.5,"y":-0.486},
{"k":319,"c":1.52,"x":2.58,"y":0.881},{"k":319,"c":1.52,"x":3.136,"y":1.43},{"k":319,"c":1.52,"x":3.89,"y":1.63},{"k":319,"c":1.52,"x":4.11,"y":1.63},{"k":319,"c":1.52,"x":5.185,"y":1.185},{"k":319,"c":1.52,"x":5.63,"y":0.11},{"k":319,"c":1.52,"x":5.63,"y":-0.11},{"k":319,"c":1.52,"x":5.185,"y":-1.185},{"k":319,"c":1.52,"x":4.11,"y":-1.63},{"k":319,"c":1.52,"x":3.89,"y":-1.63},{"k":319,"c":1.52,"x":3.136,"y":-1.43},{"k":319,"c":1.52,"x":2.58,"y":-0.881},
{"k":320,"c":1.6,"x":2.658,"y":1.131},{"k":320,"c":1.6,"x":3.209,"y":1.558},{"k":320,"c":1.6,"x":3.89,"y":1.71},{"k":320,"c":1.6,"x":4.11,"y":1.71},{"k":320,"c":1.6,"x":5.241,"y":1.241},{"k":320,"c":1.6,"x":5.71,"y":0.11},{"k":320,"c":1.6,"x":5.71,"y":-0.11},{"k":320,"c":1.6,"x":5.241,"y":-1.241},{"k":320,"c":1.6,"x":4.11,"y":-1.71},{"k":320,"c":1.6,"x":3.89,"y":-1.71},{"k":320,"c":1.6,"x":3.209,"y":-1.558},{"k":320,"c":1.6,"x":2.658,"y":-1.131},
{"k":321,"c":1.68,"x":2.72,"y":1.316},{"k":321,"c":1.68,"x":3.259,"y":1.667},{"k":321,"c":1.68,"x":3.89,"y":1.79},{"k":321,"c":1.68,"x":4.11,"y":1.79},{"k":321,"c":1.68,"x":5.298,"y":1.298},{"k":321,"c":1.68,"x":5.79,"y":0.11},{"k":321,"c":1.68,"x":5.79,"y":-0.11},{"k":321,"c":1.68,"x":5.298,"y":-1.298},{"k":321,"c":1.68,"x":4.11,"y":-1.79},{"k":321,"c":1.68,"x":3.89,"y":-1.79},{"k":321,"c":1.68,"x":3.259,"y":-1.667},{"k":321,"c":1.68,"x":2.72,"y":-1.316},
{"k":322,"c":1.76,"x":2.772,"y":1.469},{"k":322,"c":1.76,"x":3.297,"y":1.767},{"k":322,"c":1.76,"x":3.89,"y":1.87},{"k":322,"c":1.76,"x":4.11,"y":1.87},{"k":322,"c":1.76,"x":5.355,"y":1.355},{"k":322,"c":1.76,"x":5.87,"y":0.11},{"k":322,"c":1.76,"x":5.87,"y":-0.11},{"k":322,"c":1.76,"x":5.355,"y":-1.355},{"k":322,"c":1.76,"x":4.11,"y":-1.87},{"k":322,"c":1.76,"x":3.89,"y":-1.87},{"k":322,"c":1.76,"x":3.297,"y":-1.767},{"k":322,"c":1.76,"x":2.772,"y":-1.469},
{"k":323,"c":1.84,"x":2.817,"y":1.605},{"k":323,"c":1.84,"x":3.328,"y":1.862},{"k":323,"c":1.84,"x":3.89,"y":1.95},{"k":323,"c":1.84,"x":4.11,"y":1.95},{"k":323,"c":1.84,"x":5.411,"y":1.411},{"k":323,"c":1.84,"x":5.95,"y":0.11},{"k":323,"c":1.84,"x":5.95,"y":-0.11},{"k":323,"c":1.84,"x":5.411,"y":-1.411},{"k":323,"c":1.84,"x":4.11,"y":-1.95},{"k":323,"c":1.84,"x":3.89,"y":-1.95},{"k":323,"c":1.84,"x":3.328,"y":-1.862},{"k":323,"c":1.84,"x":2.817,"y":-1.605},
{"k":324,"c":1.92,"x":2.859,"y":1.73},{"k":324,"c":1.92,"x":3.353,"y":1.953},{"k":324,"c":1.92,"x":3.89,"y":2.03},{"k":324,"c":1.92,"x":4.11,"y":2.03},{"k":324,"c":1.92,"x":5.468,"y":1.468},{"k":324,"c":1.92,"x":6.03,"y":0.11},{"k":324,"c":1.92,"x":6.03,"y":-0.11},{"k":324,"c":1.92,"x":5.468,"y":-1.468},{"k":324,"c":1.92,"x":4.11,"y":-2.03},{"k":324,"c":1.92,"x":3.89,"y":-2.03},{"k":324,"c":1.92,"x":3.353,"y":-1.953},{"k":324,"c":1.92,"x":2.859,"y":-1.73},
{"k":325,"c":2,"x":2.899,"y":1.847},{"k":325,"c":2,"x":3.377,"y":2.043},{"k":325,"c":2,"x":3.89,"y":2.11},{"k":325,"c":2,"x":4.11,"y":2.11},{"k":325,"c":2,"x":5.524,"y":1.524},{"k":325,"c":2,"x":6.11,"y":0.11},{"k":325,"c":2,"x":6.11,"y":-0.11},{"k":325,"c":2,"x":5.524,"y":-1.524},{"k":325,"c":2,"x":4.11,"y":-2.11},{"k":325,"c":2,"x":3.89,"y":-2.11},{"k":325,"c":2,"x":3.377,"y":-2.043},{"k":325,"c":2,"x":2.899,"y":-1.847},
{"k":326,"c":2.08,"x":2.936,"y":1.958},{"k":326,"c":2.08,"x":3.399,"y":2.131},{"k":326,"c":2.08,"x":3.89,"y":2.19},{"k":326,"c":2.08,"x":4.11,"y":2.19},{"k":326,"c":2.08,"x":5.581,"y":1.581},{"k":326,"c":2.08,"x":6.19,"y":0.11},{"k":326,"c":2.08,"x":6.19,"y":-0.11},{"k":326,"c":2.08,"x":5.581,"y":-1.581},{"k":326,"c":2.08,"x":4.11,"y":-2.19},{"k":326,"c":2.08,"x":3.89,"y":-2.19},{"k":326,"c":2.08,"x":3.399,"y":-2.131},{"k":326,"c":2.08,"x":2.936,"y":-1.958}
],
"sq": [
{"k":402,"c":0.16,"x":0.77,"y":0.77},{"k":402,"c":0.16,"x":0.4,"y":0.78},{"k":402,"c":0.16,"x":0,"y":0.76},{"k":402,"c":0.16,"x":-0.4,"y":0.78},{"k":402,"c":0.16,"x":-0.77,"y":0.77},{"k":402,"c":0.16,"x":-0.78,"y":0.4},{"k":402,"c":0.16,"x":-0.76,"y":0},{"k":402,"c":0.16,"x":-0.78,"y":-0.4},{"k":402,"c":0.16,"x":-0.77,"y":-0.77},{"k":402,"c":0.16,"x":-0.4,"y":-0.76},{"k":402,"c":0.16,"x":0,"y":-0.78},{"k":402,"c":0.16,"x":0.4,"y":-0.76},{"k":402,"c":0.16,"x":0.77,"y":-0.77},{"k":402,"c":0.16,"x":0.76,"y":-0.4},{"k":402,"c":0.16,"x":0.78,"y":0},{"k":402,"c":0.16,"x":0.76,"y":0.4},{"k":402,"c":0.16,"x":0.77,"y":0.77},
{"k":403,"c":0.24,"x":0.69,"y":0.69},{"k":403,"c":0.24,"x":-0.69,"y":0.69},{"k":403,"c":0.24,"x":-0.69,"y":-0.69},{"k":403,"c":0.24,"x":0.69,"y":-0.69},{"k":403,"c":0.24,"x":0.69,"y":0.69},
{"k":404,"c":0.32,"x":0.61,"y":0.61},{"k":404,"c":0.32,"x":-0.61,"y":0.61},{"k":404,"c":0.32,"x":-0.61,"y":-0.61},{"k":404,"c":0.32,"x":0.61,"y":-0.61},{"k":404,"c":0.32,"x":0.61,"y":0.61},
{"k":405,"c":0.4,"x":0.53,"y":0.53},{"k":405,"c":0.4,"x":-0.53,"y":0.53},{"k":405,"c":0.4,"x":-0.53,"y":-0.53},{"k":405,"c":0.4,"x":0.53,"y":-0.53},{"k":405,"c":0.4,"x":0.53,"y":0.53},
{"k":406,"c":0.48,"x":0.45,"y":0.45},{"k":406,"c":0.48,"x":-0.45,"y":0.45},{"k":406,"c":0.48,"x":-0.45,"y":-0.45},{"k":406,"c":0.48,"x":0.45,"y":-0.45},{"k":406,"c":0.48,"x":0.45,"y":0.45},
{"k":407,"c":0.56,"x":0.37,"y":0.37},{"k":407,"c":0.56,"x":-0.37,"y":0.37},{"k":407,"c":0.56,"x":-0.37,"y":-0.37},{"k":407,"c":0.56,"x":0.37,"y":-0.37},{"k":407,"c":0.56,"x":0.37,"y":0.37},
{"k":408,"c":0.64,"x":0.29,"y":0.29},{"k":408,"c":0.64,"x":-0.29,"y":0.29},{"k":408,"c":0.64,"x":-0.29,"y":-0.29},{"k":408,"c":0.64,"x":0.29,"y":-0.29},{"k":408,"c":0.64,"x":0.29,"y":0.29},
{"k":409,"c":0.72,"x":0.21,"y":0.21},{"k":409,"c":0.72,"x":-0.21,"y":0.21},{"k":409,"c":0.72,"x":-0.21,"y":-0.21},{"k":409,"c":0.72,"x":0.21,"y":-0.21},{"k":409,"c":0.72,"x":0.21,"y":0.21},
{"k":410,"c":0.8,"x":0.13,"y":0.13},{"k":410,"c":0.8,"x":-0.13,"y":0.13},{"k":410,"c":0.8,"x":-0.13,"y":-0.13},{"k":410,"c":0.8,"x":0.13,"y":-0.13},{"k":410,"c":0.8,"x":0.13,"y":0.13},
{"k":411,"c":0.88,"x":0.05,"y":0.05},{"k":411,"c":0.88,"x":-0.05,"y":0.05},{"k":411,"c":0.88,"x":-0.05,"y":-0.05},{"k":411,"c":0.88,"x":0.05,"y":-0.05},{"k":411,"c":0.88,"x":0.05,"y":0.05},
{"k":500,"c":0.08,"x":4.03,"y":0.03},{"k":500,"c":0.08,"x":3.97,"y":0.03},{"k":500,"c":0.08,"x":3.97,"y":-0.03},{"k":500,"c":0.08,"x":4.03,"y":-0.03},{"k":500,"c":0.08,"x":4.03,"y":0.03}
],
"lv": [
{"c":0},{"c":0.08},{"c":0.16},{"c":0.24},{"c":0.32},{"c":0.4},{"c":0.48},{"c":0.56},{"c":0.64},{"c":0.72},{"c":0.8},{"c":0.88},{"c":0.96},{"c":1.04},{"c":1.12},{"c":1.2},{"c":1.28},{"c":1.36},{"c":1.44},{"c":1.52},{"c":1.6},{"c":1.68},{"c":1.76},{"c":1.84},{"c":1.92},{"c":2},{"c":2.08},{"c":2.16}
],
"tt": [
{"t":"two squares – David and Goliath","r":1},{"t":"clean, dist","r":2}
]
},
"hconcat": [
{
  "vconcat": [
    {
      "width": 312, "height": 39.25,
      "view": {"stroke": null},
      "data": {"name": "tt"},
      "mark": {"type": "text", "fontSize": 18, "font": "Liberation Serif", "align": "center", "baseline": "alphabetic", "color": "black"},
      "encoding": {
        "text": {"field": "t", "type": "nominal"},
        "y": {"field": "r", "type": "ordinal", "scale": {"type": "point", "padding": 0.567, "align": 0.698}, "axis": null}
      }
    },
    {
      "width": 312, "height": 178,
      "layer": [
        {
          "data": {"name": "g"},
          "mark": {"type": "line", "interpolate": "catmull-rom", "strokeWidth": 1.5, "clip": true},
          "encoding": {
            "x": {"field": "x", "type": "quantitative", "scale": {"domain": [-2, 5], "nice": false, "zero": false}, "axis": {"values": [-2, -1, 0, 1, 2, 3, 4, 5], "title": null}},
            "y": {"field": "y", "type": "quantitative", "scale": {"domain": [-2, 2], "nice": false, "zero": false}, "axis": {"values": [-2, -1, 0, 1, 2], "title": null}},
            "detail": {"field": "k", "type": "nominal"},
            "order": {"value": null},
            "color": {"field": "c", "type": "quantitative", "scale": {"scheme": "viridis", "domain": [0, 2.16]}, "legend": null}
          }
        },
        {
          "data": {"name": "sq"},
          "mark": {"type": "line", "interpolate": "linear", "strokeWidth": 1.5, "clip": true},
          "encoding": {
            "x": {"field": "x", "type": "quantitative"},
            "y": {"field": "y", "type": "quantitative"},
            "detail": {"field": "k", "type": "nominal"},
            "order": {"value": null},
            "color": {"field": "c", "type": "quantitative", "scale": {"scheme": "viridis", "domain": [0, 2.16]}, "legend": null}
          }
        }
      ]
    }
  ],
  "spacing": 0,
  "bounds": "flush"
},
{
  "width": 12, "height": 257,
  "data": {"name": "lv"},
  "mark": {"type": "rule", "strokeWidth": 2},
  "encoding": {
    "y": {"field": "c", "type": "quantitative", "scale": {"domain": [0, 2.16], "nice": false, "zero": false}, "axis": {"orient": "right", "values": [0, 0.24, 0.48, 0.72, 0.96, 1.2, 1.44, 1.68, 1.92, 2.16], "format": ".2f", "title": null, "labelPadding": 2}},
    "color": {"field": "c", "type": "quantitative", "scale": {"scheme": "viridis", "domain": [0, 2.16]}, "legend": null}
  }
}
]
}
